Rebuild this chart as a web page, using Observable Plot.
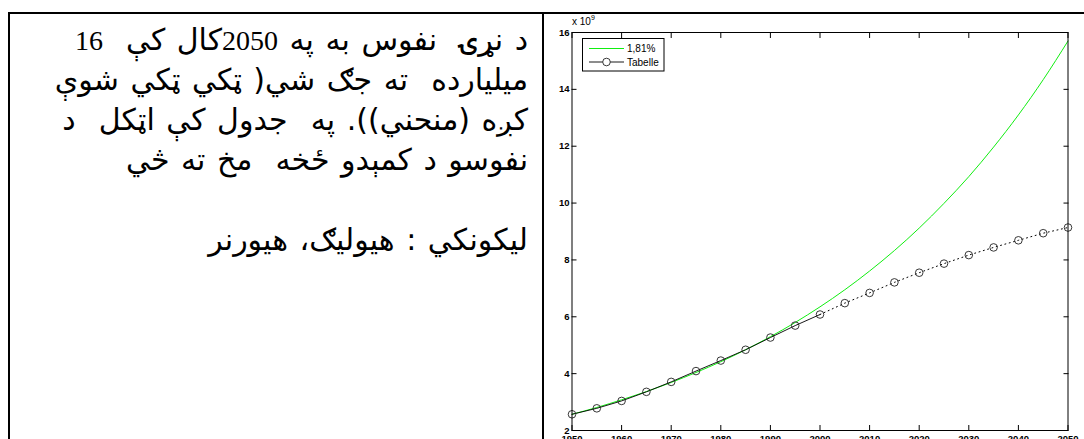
<!DOCTYPE html>
<html>
<head>
<meta charset="utf-8">
<script src="https://cdn.jsdelivr.net/npm/d3@7"></script>
<script src="https://cdn.jsdelivr.net/npm/@observablehq/plot@0.6"></script>
<style>
  html, body { margin: 0; padding: 0; background: #fff; width: 1084px; height: 439px; overflow: hidden; }
  #frame { position: absolute; left: 8px; top: 12px; width: 1100px; height: 500px; border-top: 2px solid #000; border-left: 2px solid #000; }
  #divider { position: absolute; left: 542px; top: 12px; width: 2px; height: 440px; background: #000; }
  #text { position: absolute; left: 0; top: 20px; width: 528px; direction: rtl; text-align: right;
          font-family: "DejaVu Sans", sans-serif; font-size: 30px; line-height: 40px; word-spacing: 2px; white-space: pre; color: #000; }
  #text .num { font-family: "Liberation Serif", serif; font-size: 28px; }
  #chart { position: absolute; left: 545px; top: 0; }
  #legend { position: absolute; left: 582px; top: 38px; }
  #expo { position: absolute; left: 572px; top: 15px; font-family: "Liberation Sans", Arial, sans-serif; font-size: 10px; color: #000; }
  #expo sup { font-size: 7px; position: relative; top: -1px; }
</style>
</head>
<body>
<div id="frame"></div>
<div id="divider"></div>
<div id="text"></div>
<div id="chart"></div>
<div id="expo"></div>
<div id="legend"></div>
<script>
// ---- data ----
const textLines = [
  "د نړۍ  نفوس به په 2050کال کې  16",
  "ميليارده  ته جګ شي( ټکي ټکي شوې",
  "کږه (منحني)). په  جدول کې اټکل  د",
  "نفوسو د کمېدو ځخه  مخ ته څي",
  "",
  "ليکونکي : هيوليګ، هيورنر"
];
const years = [1950,1955,1960,1965,1970,1975,1980,1985,1990,1995,2000,2005,2010,2015,2020,2025,2030,2035,2040,2045,2050];
const tabelle = [2.57,2.78,3.04,3.36,3.71,4.09,4.46,4.84,5.27,5.69,6.08,6.48,6.84,7.21,7.55,7.87,8.17,8.44,8.69,8.94,9.14];
const growth181 = [2.57,2.81,3.08,3.37,3.69,4.04,4.42,4.84,5.30,5.80,6.35,6.95,7.61,8.33,9.12,9.99,10.93,11.97,13.10,14.34,15.70];
const seriesNames = ["1,81%", "Tabelle"];
const xTicks = [1950,1960,1970,1980,1990,2000,2010,2020,2030,2040,2050];
const yTicks = [2,4,6,8,10,12,14,16];
const splitYear = 2000;
const exponentBase = "x 10";
const exponentPower = "9";

// ---- text panel ----
const tp = document.getElementById("text");
for (const line of textLines) {
  const d = document.createElement("div");
  d.style.height = "40px";
  for (const part of line.split(/(\d+)/)) {
    if (!part) continue;
    if (/^\d+$/.test(part)) {
      const s = document.createElement("span");
      s.className = "num";
      s.textContent = part;
      d.appendChild(s);
    } else {
      d.appendChild(document.createTextNode(part));
    }
  }
  tp.appendChild(d);
}

// ---- chart ----
const tabRows = years.map((y, i) => ({year: y, value: tabelle[i]}));
const growRows = years.map((y, i) => ({year: y, value: growth181[i]}));
const solidRows = tabRows.filter(d => d.year <= splitYear);
const dottedRows = tabRows.filter(d => d.year >= splitYear);

const W = 539, H = 470;
const chart = Plot.plot({
  width: W, height: H,
  marginLeft: 26.5, marginRight: 16.5, marginTop: 32, marginBottom: H - 430,
  x: {domain: [1950, 2050]},
  y: {domain: [2, 16]},
  style: {fontFamily: "'Liberation Sans', Arial, sans-serif", fontSize: "9.5px", fontWeight: "bold", color: "#000", background: "transparent", overflow: "visible"},
  marks: [
    Plot.line(growRows, {x: "year", y: "value", stroke: "#11ee11", strokeWidth: 1, curve: "monotone-x"}),
    Plot.line(solidRows, {x: "year", y: "value", stroke: "#000", strokeWidth: 0.9}),
    Plot.line(dottedRows, {x: "year", y: "value", stroke: "#000", strokeWidth: 1, strokeDasharray: "1,3.5"}),
    Plot.dot(tabRows, {x: "year", y: "value", r: 3.8, stroke: "#222", strokeWidth: 0.9, fill: "none"}),
    Plot.frame({stroke: "#000", strokeWidth: 1}),
    Plot.axisX({anchor: "bottom", ticks: xTicks, tickSize: -5, tickPadding: 10, tickFormat: d => String(d), label: null}),
    Plot.axisX({anchor: "top", ticks: xTicks, tickSize: -5, tickFormat: () => "", label: null}),
    Plot.axisY({anchor: "left", ticks: yTicks, tickSize: -5, tickPadding: 7.5, tickFormat: d => String(d), label: null}),
    Plot.axisY({anchor: "right", ticks: yTicks, tickSize: -5, tickFormat: () => "", label: null})
  ]
});
document.getElementById("chart").appendChild(chart);

// exponent label
document.getElementById("expo").innerHTML = exponentBase + "<sup>" + exponentPower + "</sup>";

// ---- legend ----
const lg = d3.select("#legend").append("svg").attr("width", 83).attr("height", 34);
lg.append("rect").attr("x", 0.5).attr("y", 0.5).attr("width", 81.5).attr("height", 32.5).attr("fill", "#fff").attr("stroke", "#000");
lg.append("line").attr("x1", 7).attr("x2", 42).attr("y1", 10.5).attr("y2", 10.5).attr("stroke", "#11ee11").attr("stroke-width", 1);
lg.append("line").attr("x1", 7).attr("x2", 42).attr("y1", 24).attr("y2", 24).attr("stroke", "#000").attr("stroke-width", 0.9);
lg.append("circle").attr("cx", 24.5).attr("cy", 24).attr("r", 3.8).attr("fill", "#fff").attr("stroke", "#222").attr("stroke-width", 0.9);
lg.selectAll("text.lab").data(seriesNames).join("text")
  .attr("x", 45).attr("y", (d, i) => i === 0 ? 10.5 : 24)
  .attr("dy", "0.35em")
  .attr("font-family", "'Liberation Sans', Arial, sans-serif")
  .attr("font-size", 10)
  .text(d => d);
</script>
</body>
</html>
